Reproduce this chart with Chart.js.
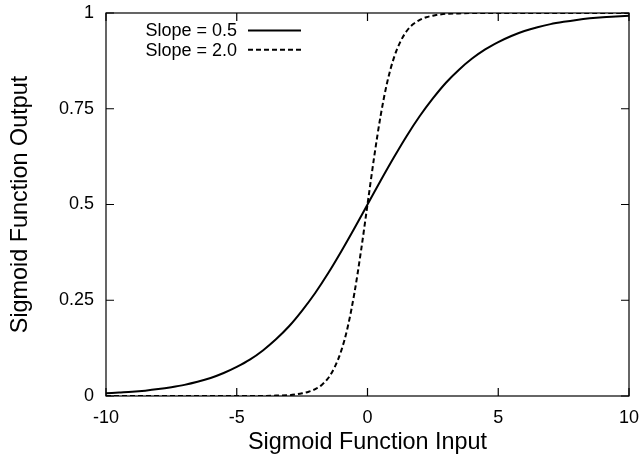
<!DOCTYPE html>
<html>
<head>
<meta charset="utf-8">
<script src="https://cdn.jsdelivr.net/npm/chart.js@4"></script>
<style>
  html, body { margin: 0; padding: 0; background: #fff; }
  #wrap { width: 641px; height: 455px; }
</style>
</head>
<body>
<div id="wrap"><canvas id="chart" width="641" height="455"></canvas></div>
<script>
// values
const xSlope05 = [-10, -9.5, -9, -8.5, -8, -7.5, -7, -6.5, -6, -5.5, -5, -4.5, -4, -3.5, -3, -2.5, -2, -1.5, -1, -0.5,
  0, 0.5, 1, 1.5, 2, 2.5, 3, 3.5, 4, 4.5, 5, 5.5, 6, 6.5, 7, 7.5, 8, 8.5, 9, 9.5, 10];
const ySlope05 = [0.007, 0.009, 0.011, 0.014, 0.018, 0.023, 0.029, 0.037, 0.047, 0.060, 0.076, 0.095, 0.119, 0.148, 0.182, 0.223, 0.269, 0.321, 0.378, 0.438,
  0.500, 0.562, 0.622, 0.679, 0.731, 0.777, 0.818, 0.852, 0.881, 0.905, 0.924, 0.940, 0.953, 0.963, 0.971, 0.977, 0.982, 0.986, 0.989, 0.991, 0.993];

const xSlope20 = [-10, -9, -8, -7, -6, -5, -4.5, -4, -3.5, -3, -2.75, -2.5, -2.25, -2, -1.75, -1.5, -1.25, -1, -0.75, -0.5, -0.25,
  0, 0.25, 0.5, 0.75, 1, 1.25, 1.5, 1.75, 2, 2.25, 2.5, 2.75, 3, 3.5, 4, 4.5, 5, 6, 7, 8, 9, 10];
const ySlope20 = [0, 0, 0, 0, 0, 0, 0, 0, 0.001, 0.002, 0.004, 0.007, 0.011, 0.018, 0.029, 0.047, 0.076, 0.119, 0.182, 0.269, 0.378,
  0.500, 0.622, 0.731, 0.818, 0.881, 0.924, 0.953, 0.971, 0.982, 0.989, 0.993, 0.996, 0.998, 0.999, 1, 1, 1, 1, 1, 1, 1, 1];

const seriesLabels = ['Slope = 0.5', 'Slope = 2.0'];
const xTicks = [-10, -5, 0, 5, 10];
const xTickLabels = ['-10', '-5', '0', '5', '10'];
const yTicks = [0, 0.25, 0.5, 0.75, 1];
const yTickLabels = ['0', '0.25', '0.5', '0.75', '1'];

const FONT = "'Liberation Sans', Arial, Helvetica, sans-serif";

function toPoints(xs, ys) {
  return xs.map((x, i) => ({ x: x, y: ys[i] }));
}

// gnuplot style frame, inward ticks and key
const framePlugin = {
  id: 'frame',
  afterDatasetsDraw(chart) {
    const { ctx, chartArea: a, scales } = chart;
    const tl = 8;
    ctx.save();
    ctx.strokeStyle = '#000';
    ctx.lineWidth = 1.2;
    ctx.strokeRect(a.left, a.top, a.right - a.left, a.bottom - a.top);
    ctx.beginPath();
    xTicks.forEach(v => {
      const px = scales.x.getPixelForValue(v);
      ctx.moveTo(px, a.bottom); ctx.lineTo(px, a.bottom - tl);
      ctx.moveTo(px, a.top); ctx.lineTo(px, a.top + tl);
    });
    yTicks.forEach(v => {
      const py = scales.y.getPixelForValue(v);
      ctx.moveTo(a.left, py); ctx.lineTo(a.left + tl, py);
      ctx.moveTo(a.right, py); ctx.lineTo(a.right - tl, py);
    });
    ctx.stroke();

    // key
    ctx.font = '18px ' + FONT;
    ctx.fillStyle = '#000';
    ctx.textAlign = 'right';
    ctx.textBaseline = 'middle';
    chart.data.datasets.forEach((ds, i) => {
      const y = a.top + 17.5 + i * 19.3;
      ctx.fillText(ds.label, a.left + 131, y + 1);
      ctx.beginPath();
      ctx.setLineDash(ds.borderDash || []);
      ctx.lineWidth = ds.borderWidth;
      ctx.strokeStyle = ds.borderColor;
      ctx.moveTo(a.left + 142, y);
      ctx.lineTo(a.left + 195, y);
      ctx.stroke();
    });
    ctx.restore();
  }
};

new Chart(document.getElementById('chart'), {
  type: 'scatter',
  data: {
    datasets: [{
      label: seriesLabels[0],
      data: toPoints(xSlope05, ySlope05),
      showLine: true,
      borderColor: '#000',
      borderWidth: 2,
      pointRadius: 0,
      cubicInterpolationMode: 'monotone',
    }, {
      label: seriesLabels[1],
      data: toPoints(xSlope20, ySlope20),
      showLine: true,
      borderColor: '#000',
      borderWidth: 2,
      borderDash: [5, 3],
      pointRadius: 0,
      cubicInterpolationMode: 'monotone',
    }],
  },
  options: {
    responsive: false,
    animation: false,
    layout: { padding: { top: 13, right: 12, left: 0, bottom: 0 } },
    plugins: {
      legend: { display: false },
      tooltip: { enabled: false },
    },
    scales: {
      x: {
        type: 'linear',
        min: -10,
        max: 10,
        afterBuildTicks: (s) => { s.ticks = xTicks.map(v => ({ value: v })); },
        afterFit: (s) => { s.height = 59; s.paddingLeft = 0; s.paddingRight = 0; },
        ticks: {
          color: '#000',
          font: { family: FONT, size: 18 },
          padding: 11,
          maxRotation: 0,
          callback: (v) => xTickLabels[xTicks.indexOf(v)],
        },
        grid: { display: false, drawTicks: false },
        border: { display: false },
        title: {
          display: true,
          text: 'Sigmoid Function Input',
          color: '#000',
          font: { family: FONT, size: 23.4, lineHeight: 1.1 },
          padding: { top: 0, bottom: 0 },
        },
      },
      y: {
        min: 0,
        max: 1,
        afterBuildTicks: (s) => { s.ticks = yTicks.map(v => ({ value: v })); },
        afterFit: (s) => { s.width = 106; s.paddingTop = 0; s.paddingBottom = 0; },
        ticks: {
          color: '#000',
          font: { family: FONT, size: 18 },
          padding: 12,
          callback: (v) => yTickLabels[yTicks.indexOf(v)],
        },
        grid: { display: false, drawTicks: false },
        border: { display: false },
        title: {
          display: true,
          text: 'Sigmoid Function Output',
          color: '#000',
          font: { family: FONT, size: 23.4, lineHeight: 1.1 },
          padding: { top: 8, bottom: 0 },
        },
      },
    },
  },
  plugins: [framePlugin],
});
</script>
</body>
</html>
